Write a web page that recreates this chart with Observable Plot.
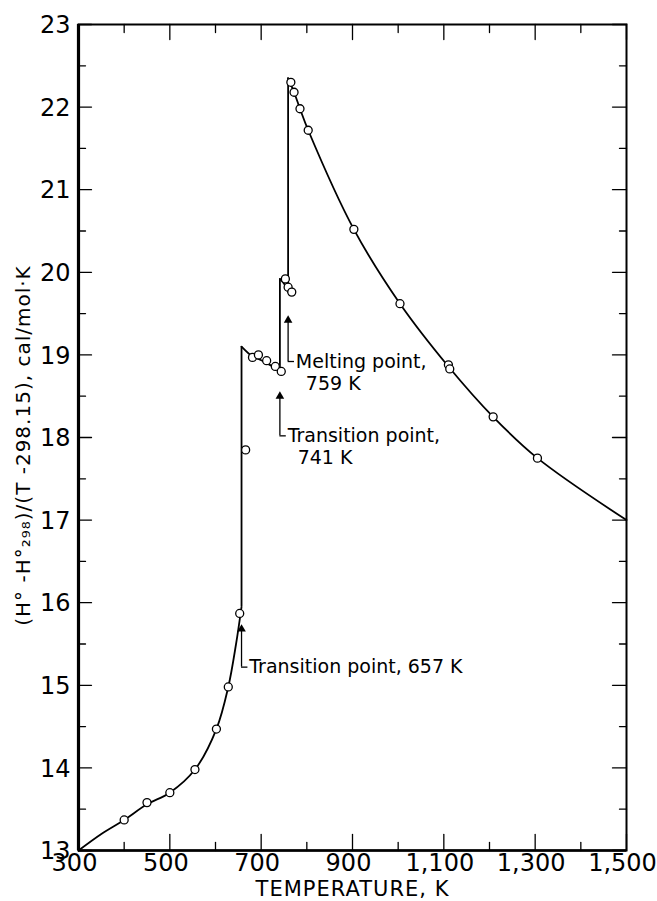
<!DOCTYPE html>
<html><head><meta charset="utf-8">
<script src="https://cdn.jsdelivr.net/npm/d3@7"></script>
<script src="https://cdn.jsdelivr.net/npm/@observablehq/plot@0.6"></script>
<style>body{margin:0;background:#fff}</style>
</head><body><div id="chart"></div>
<script>
// Measured points (circles)
const pointT = [400, 450, 500, 555, 602, 628, 653, 666, 681, 694, 712, 731, 744, 753, 759, 767, 765, 772, 785, 803, 903, 1004, 1110, 1113, 1208, 1305];
const pointV = [13.37, 13.58, 13.70, 13.98, 14.47, 14.98, 15.87, 17.85, 18.97, 19.00, 18.93, 18.86, 18.80, 19.92, 19.82, 19.76, 22.30, 22.18, 21.98, 21.72, 20.52, 19.62, 18.88, 18.83, 18.25, 17.75];

// Smooth curve segments
const seg1T = [300, 350, 400, 450, 500, 555, 602, 628, 645, 657];
const seg1V = [13.00, 13.20, 13.37, 13.56, 13.70, 13.98, 14.47, 14.98, 15.50, 15.95];
const seg2T = [657, 681, 694, 712, 731, 741];
const seg2V = [19.10, 18.98, 18.95, 18.90, 18.84, 18.80];
const seg3T = [741, 753, 759];
const seg3V = [19.92, 19.84, 19.76];
const seg4T = [759, 772, 785, 803, 903, 1004, 1110, 1208, 1305, 1500];
const seg4V = [22.35, 22.18, 21.98, 21.72, 20.52, 19.62, 18.86, 18.25, 17.75, 17.00];

// Vertical jumps at transitions
const jumpT = [657, 741, 759];
const jumpFrom = [15.95, 18.80, 19.76];
const jumpTo = [19.10, 19.92, 22.35];

// Annotations
const noteT = [657, 741, 759];
const noteTail = [15.22, 18.02, 18.92];
const noteTip = [15.68, 18.50, 19.42];
const noteLine1 = ["Transition point, 657 K", "Transition point,", "Melting point,"];
const noteLine2 = ["", "741 K", "759 K"];

// Axes ticks and titles
const xTicks = [300, 500, 700, 900, 1100, 1300, 1500];
const xMinor = [400, 600, 800, 1000, 1200, 1400];
const yTicks = [13, 14, 15, 16, 17, 18, 19, 20, 21, 22, 23];
const yMinor = [13.5, 14.5, 15.5, 16.5, 17.5, 18.5, 19.5, 20.5, 21.5, 22.5];
const xTitle = ["TEMPERATURE, K"];
const yTitle = ["(H° -H°₂₉₈)/(T -298.15), cal/mol·K"];

const toXY = (T, V) => T.map((t, i) => ({t, v: V[i]}));
const points = toXY(pointT, pointV);
const segs = [toXY(seg1T, seg1V), toXY(seg2T, seg2V), toXY(seg3T, seg3V), toXY(seg4T, seg4V)];
const jumps = jumpT.map((t, i) => ({t, a: jumpFrom[i], b: jumpTo[i]}));
const notes = noteT.map((t, i) => ({t, tail: noteTail[i], tip: noteTip[i], l1: noteLine1[i], l2: noteLine2[i]}));

const tickShape = {draw(context, l) { context.moveTo(0, 0); context.lineTo(0, -l); }};
const FONT = "DejaVu Sans, sans-serif";
const fmtX = d3.format(",");

const inward = (data, channel, anchor, rot, len) => Plot.vector(data, {
  [channel]: d => d, frameAnchor: anchor, rotate: rot, length: len,
  anchor: "start", shape: tickShape, stroke: "black", strokeWidth: 1.3
});

const chart = Plot.plot({
  width: 657, height: 901,
  marginLeft: 78, marginRight: 31, marginTop: 24, marginBottom: 51,
  style: {fontFamily: FONT, background: "white", color: "black"},
  x: {domain: [300, 1500]},
  y: {domain: [13, 23]},
  marks: [
    Plot.frame({stroke: "black", strokeWidth: 2}),
    Plot.ruleX([300], {stroke: "black", strokeWidth: 3.2}),
    Plot.ruleY([13], {stroke: "black", strokeWidth: 2.6}),
    Plot.axisX(xTicks, {tickSize: 0, tickPadding: 3, tickFormat: fmtX, fontSize: 24, dx: -4, label: null}),
    Plot.axisY(yTicks, {tickSize: 0, tickPadding: 8, tickFormat: d => String(d), fontSize: 24, dy: 1, label: null}),
    Plot.text(xTitle, {frameAnchor: "bottom", textAnchor: "middle", lineAnchor: "middle", dy: 39, fontSize: 21, fontFamily: FONT}),
    Plot.text(yTitle, {frameAnchor: "left", textAnchor: "middle", lineAnchor: "middle", rotate: -90, dx: -55, dy: 8, fontSize: 20, fontFamily: FONT}),
    inward(yTicks, "y", "left", 90, 13),
    inward(yMinor, "y", "left", 90, 7),
    inward(yTicks, "y", "right", -90, 14),
    inward(yMinor, "y", "right", -90, 7),
    inward(xTicks, "x", "bottom", 0, 16),
    inward(xMinor, "x", "bottom", 0, 8),
    inward(xTicks, "x", "top", 180, 15),
    inward(xMinor, "x", "top", 180, 8),
    ...segs.map(s => Plot.line(s, {x: "t", y: "v", curve: "catmull-rom", stroke: "black", strokeWidth: 1.8})),
    Plot.ruleX(jumps, {x: "t", y1: "a", y2: "b", stroke: "black", strokeWidth: 1.8}),
    Plot.dot(points, {x: "t", y: "v", r: 4, stroke: "black", fill: "white", strokeWidth: 1.3}),
    Plot.ruleX(notes, {x: "t", y1: "tail", y2: "tip", stroke: "black", strokeWidth: 1.3}),
    Plot.dot(notes, {x: "t", y: "tip", symbol: "triangle", r: 3.2, fill: "black", stroke: "none"}),
    Plot.ruleY(notes, {y: "tail", x1: "t", x2: d => d.t + 14, stroke: "black", strokeWidth: 1.3}),
    Plot.text(notes, {x: d => d.t + 17, y: "tail", text: "l1", textAnchor: "start", fontSize: 19, fontFamily: FONT}),
    Plot.text(notes, {x: d => d.t + 17, y: "tail", text: "l2", textAnchor: "start", dx: 10, dy: 22, fontSize: 19, fontFamily: FONT})
  ]
});
// widen letter spacing of the axis titles, as in the hand-lettered original
d3.select(chart).selectAll("text").filter(function() {
  return this.textContent === yTitle[0] || this.textContent === xTitle[0];
}).style("letter-spacing", "1px");
document.getElementById("chart").appendChild(chart);
</script>
</body></html>
